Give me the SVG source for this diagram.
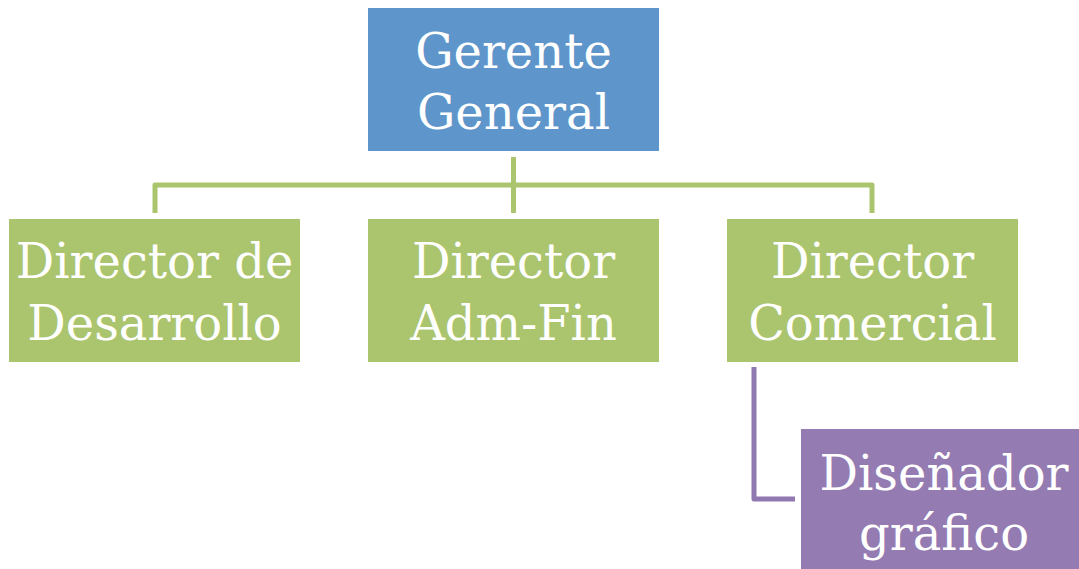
<svg xmlns="http://www.w3.org/2000/svg" width="1079" height="569" viewBox="0 0 1079 569">
<style>
.t{font-family:"DejaVu Serif","Liberation Serif",serif;font-size:48px;fill:#fff;text-anchor:middle}
.g{fill:#abc46e}
.c{fill:none;stroke-width:5;stroke-linejoin:round}
</style>
<rect width="1079" height="569" fill="#fff"/>
<g id="connectors">
<path class="c" stroke="#abc46e" d="M513.5 157V185M155 213V185H872V213M513.5 185V213"/>
<path class="c" stroke="#9079b0" d="M754 367V499H795"/>
</g>
<g id="gerente">
<rect x="368" y="8" width="291" height="143" fill="#5e95ca"/>
<text class="t" x="513.5" y="68">Gerente</text>
<text class="t" x="513.5" y="129">General</text>
</g>
<g id="desarrollo">
<rect class="g" x="9" y="219" width="291" height="143"/>
<text class="t" x="154.5" y="278">Director de</text>
<text class="t" x="154.5" y="340">Desarrollo</text>
</g>
<g id="admfin">
<rect class="g" x="368" y="219" width="291" height="143"/>
<text class="t" x="513.5" y="278">Director</text>
<text class="t" x="513.5" y="340">Adm-Fin</text>
</g>
<g id="comercial">
<rect class="g" x="727" y="219" width="291" height="143"/>
<text class="t" x="872.5" y="278">Director</text>
<text class="t" x="872.5" y="340">Comercial</text>
</g>
<g id="disenador">
<rect x="801" y="429" width="278" height="140" fill="#947bb1"/>
<text class="t" x="944" y="490">Diseñador</text>
<text class="t" x="944" y="550">gráfico</text>
</g>
</svg>
